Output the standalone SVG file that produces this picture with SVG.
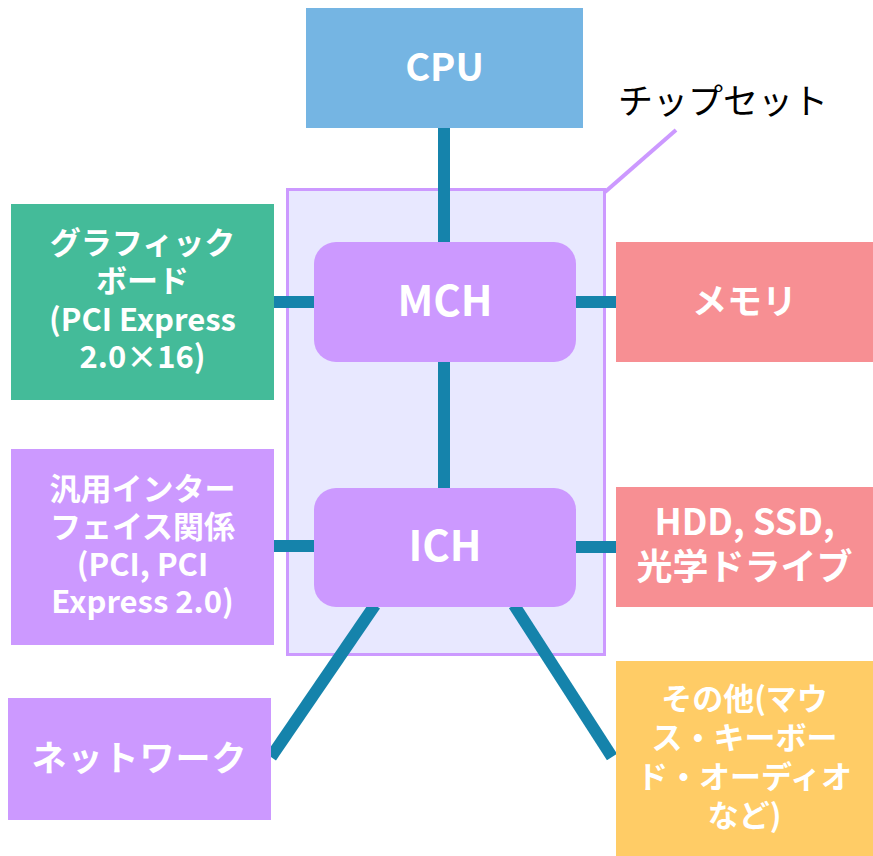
<svg xmlns="http://www.w3.org/2000/svg" width="873" height="856" viewBox="0 0 873 856">
<style>
.t{font-family:"Noto Sans CJK JP","Noto Sans",sans-serif;font-weight:bold;fill:#fff;text-anchor:middle}
.c{stroke:#1583ab;stroke-width:12;fill:none}
</style>
<rect width="873" height="856" fill="#fff"/>
<g id="chipset">
<rect x="287.5" y="189.5" width="317" height="465" fill="#e8e8ff" stroke="#cc99ff" stroke-width="3"/>
<line x1="605" y1="192" x2="676" y2="130" stroke="#cc99ff" stroke-width="4"/>
<text x="723" y="114" font-family="'Noto Sans CJK JP',sans-serif" font-size="35" fill="#000" text-anchor="middle">チップセット</text>
</g>
<g id="connectors">
<line class="c" x1="444" y1="128" x2="444" y2="242"/>
<line class="c" x1="444" y1="362" x2="444" y2="488"/>
<line class="c" x1="274" y1="302" x2="314" y2="302"/>
<line class="c" x1="576" y1="302" x2="616" y2="302"/>
<line class="c" x1="274" y1="546" x2="314" y2="546"/>
<line class="c" x1="576" y1="547" x2="616" y2="547"/>
<line class="c" x1="375" y1="605" x2="271" y2="757"/>
<line class="c" x1="514" y1="605" x2="612" y2="757"/>
</g>
<g id="cpu">
<rect x="306" y="8" width="277" height="120" fill="#75b5e3"/>
<text class="t" x="444.5" y="81" font-size="38">CPU</text>
</g>
<g id="mch">
<rect x="314" y="242" width="262" height="120" rx="22" fill="#cc99ff"/>
<text class="t" x="445" y="316" font-size="42">MCH</text>
</g>
<g id="ich">
<rect x="314" y="488" width="262" height="119" rx="22" fill="#cc99ff"/>
<text class="t" x="445" y="561" font-size="42">ICH</text>
</g>
<g id="graphics">
<rect x="11" y="204" width="263" height="196" fill="#44bb99"/>
<text class="t" font-size="31"><tspan x="142.5" y="254">グラフィック</tspan><tspan x="142.5" y="292">ボード</tspan><tspan x="142.5" y="331">(PCI Express</tspan><tspan x="142.5" y="368">2.0×16)</tspan></text>
</g>
<g id="memory">
<rect x="616" y="242" width="257" height="120" fill="#f78f93"/>
<text class="t" x="744.5" y="314" font-size="35">メモリ</text>
</g>
<g id="general-if">
<rect x="11" y="449" width="263" height="196" fill="#cc99ff"/>
<text class="t" font-size="31"><tspan x="142.5" y="500">汎用インター</tspan><tspan x="142.5" y="538">フェイス関係</tspan><tspan x="142.5" y="576">(PCI, PCI</tspan><tspan x="142.5" y="613">Express 2.0)</tspan></text>
</g>
<g id="storage">
<rect x="616" y="487" width="257" height="120" fill="#f78f93"/>
<text class="t" font-size="36"><tspan x="744.5" y="535">HDD, SSD,</tspan><tspan x="744.5" y="580">光学ドライブ</tspan></text>
</g>
<g id="network">
<rect x="8" y="698" width="263" height="122" fill="#cc99ff"/>
<text class="t" x="139.5" y="771" font-size="35" letter-spacing="1">ネットワーク</text>
</g>
<g id="others">
<rect x="616" y="661" width="257" height="195" fill="#ffcc66"/>
<text class="t" font-size="31"><tspan x="744.5" y="710">その他(マウ</tspan><tspan x="744.5" y="749">ス・キーボー</tspan><tspan x="744.5" y="788">ド・オーディオ</tspan><tspan x="744.5" y="827">など)</tspan></text>
</g>
</svg>
